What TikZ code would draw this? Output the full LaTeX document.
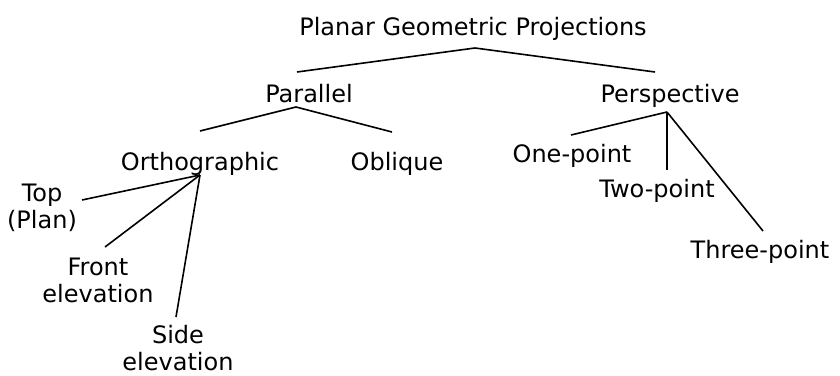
\documentclass[tikz,border=0pt]{standalone}
\usepackage{fontspec}
\setmainfont{DejaVu Sans}
\usetikzlibrary{calc}
\begin{document}
\begin{tikzpicture}[x=1pt,y=-1pt,
  term/.style={inner sep=0pt,text height=18pt,text depth=6pt,font=\fontsize{24}{27}\selectfont},
  multi/.style={inner sep=0pt,align=center,font=\fontsize{24}{27}\selectfont},
  edge/.style={line width=1.6pt}]
\useasboundingbox (0,0) rectangle (840,375);
% tree labels
\node[term] (root)  at (473,29)  {Planar Geometric Projections};
\node[term] (par)   at (309,96)  {Parallel};
\node[term] (persp) at (670,96)  {Perspective};
\node[term] (ortho) at (200,164) {Orthographic};
\node[term] (obl)   at (397,164) {Oblique};
\node[term] (one)   at (572,156) {One-point};
\node[term] (two)   at (657,191) {Two-point};
\node[term] (three) at (760,252) {Three-point};
\node[multi] (top)   at (42,208)  {Top\\(Plan)};
\node[multi] (front) at (98,280)  {Front\\elevation};
\node[multi] (side)  at (178,348) {Side\\elevation};
% branches
\draw[edge] ($(root)+(2,19)$) -- ($(par)+(-12,-24)$);
\draw[edge] ($(root)+(2,19)$) -- ($(persp)+(-15,-24)$);
\draw[edge] ($(par)+(-13,11)$) -- ($(ortho)+(0,-33)$);
\draw[edge] ($(par)+(-13,11)$) -- ($(obl)+(-5,-32)$);
\draw[edge] ($(persp)+(-3,16)$) -- ($(one)+(-1,-21)$);
\draw[edge] ($(persp)+(-3,16)$) -- ($(two)+(10,-21)$);
\draw[edge] ($(persp)+(-3,16)$) -- ($(three)+(3,-21)$);
\draw[edge] ($(ortho)+(0,11)$) -- ($(top)+(40,-8)$);
\draw[edge] ($(ortho)+(0,11)$) -- ($(front)+(7,-33)$);
\draw[edge] ($(ortho)+(0,11)$) -- ($(side)+(-2,-31)$);
\end{tikzpicture}
\end{document}
